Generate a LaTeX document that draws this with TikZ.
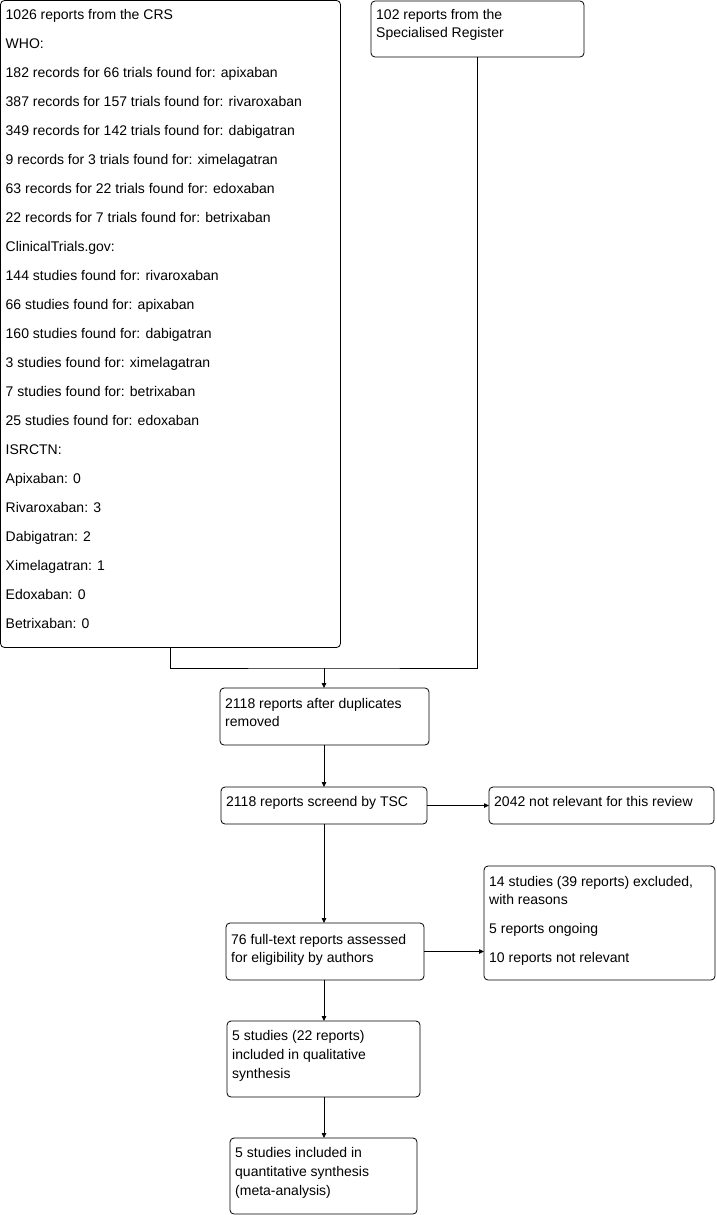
\documentclass[tikz,border=0pt]{standalone}
\usepackage{fontspec}
\setmainfont{Liberation Sans}
\usetikzlibrary{calc,arrows.meta}
\tikzset{
  box/.style={draw, rounded corners=4pt, line width=0.8pt, anchor=north west, inner sep=0pt, outer sep=0pt},
  txt/.style={anchor=base west, inner sep=0pt, font=\fontsize{14}{17}\selectfont},
  arr/.style={-{Triangle[length=5pt,width=4.5pt]}, line width=0.8pt},
  ln/.style={line width=0.8pt}
}
\newcommand\mylines[4]{%
  \foreach \t [count=\i] in {#4} {%
    \node[txt] (#1t\i) at ($(#1.north west)+(5,{#2+#3*(\i-1)})$) {\t};}}
\begin{document}
\begin{tikzpicture}[x=1pt,y=-1pt]
\useasboundingbox (0,0) rectangle (716,1215);
% boxes
\node[box, minimum width=340pt, minimum height=647pt] (A) at (0.5,0.5) {};
\node[box, minimum width=213pt, minimum height=56pt] (B) at (371,1) {};
\node[box, minimum width=209pt, minimum height=57pt] (C) at (220,688) {};
\node[box, minimum width=206pt, minimum height=37pt] (D) at (221,787) {};
\node[box, minimum width=225pt, minimum height=37pt] (E) at (489,787) {};
\node[box, minimum width=198pt, minimum height=57pt] (F) at (226,923) {};
\node[box, minimum width=231pt, minimum height=114pt] (G) at (484,866) {};
\node[box, minimum width=193pt, minimum height=76pt] (H) at (227,1021) {};
\node[box, minimum width=187pt, minimum height=76pt] (I) at (230,1138) {};
% texts
\mylines{A}{19}{29}{1026 reports from the CRS, WHO:,
182 records for 66 trials found for: apixaban,
387 records for 157 trials found for: rivaroxaban,
349 records for 142 trials found for: dabigatran,
9 records for 3 trials found for: ximelagatran,
63 records for 22 trials found for: edoxaban,
22 records for 7 trials found for: betrixaban,
ClinicalTrials.gov:,
144 studies found for: rivaroxaban,
66 studies found for: apixaban,
160 studies found for: dabigatran,
3 studies found for: ximelagatran,
7 studies found for: betrixaban,
25 studies found for: edoxaban,
ISRCTN:, Apixaban: 0, Rivaroxaban: 3, Dabigatran: 2, Ximelagatran: 1, Edoxaban: 0, Betrixaban: 0}
\mylines{B}{18.5}{18}{102 reports from the, Specialised Register}
\mylines{C}{20}{18.5}{2118 reports after duplicates, removed}
\mylines{D}{19}{18}{2118 reports screend by TSC}
\mylines{E}{19}{18}{2042 not relevant for this review}
\mylines{F}{21}{18.5}{76 full-text reports assessed, for eligibility by authors}
\node[txt] (Gt1) at ($(G.north west)+(5,20.5)$) {14 studies (39 reports) excluded,};
\node[txt] (Gt2) at ($(G.north west)+(5,38.5)$) {with reasons};
\node[txt] (Gt3) at ($(G.north west)+(5,67.5)$) {5 reports ongoing};
\node[txt] (Gt4) at ($(G.north west)+(5,96)$) {10 reports not relevant};
\mylines{H}{19}{19}{5 studies (22 reports), included in qualitative, synthesis}
\mylines{I}{19.5}{19}{5 studies included in, quantitative synthesis, (meta-analysis)}
% connectors
\coordinate (j) at (324,668);
\draw[ln] (A.south) |- (j) -| (B.south);
\draw[arr] (j) -- (j |- C.north);
\draw[arr] (C.south -| j) -- (j |- D.north);
\draw[arr] (D.east) -- (D.east -| E.west);
\draw[arr] (D.south -| j) -- (j |- F.north);
\draw[arr] (F.east) -- (F.east -| G.west);
\draw[arr] (F.south -| j) -- (j |- H.north);
\draw[arr] (H.south -| j) -- (j |- I.north);
\end{tikzpicture}
\end{document}
